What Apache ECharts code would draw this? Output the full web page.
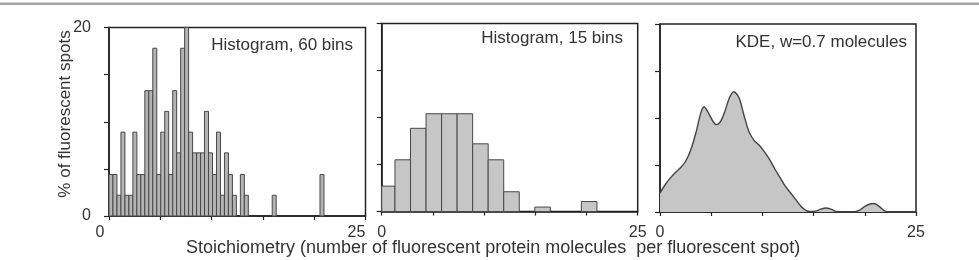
<!DOCTYPE html>
<html>
<head>
<meta charset="utf-8">
<script src="https://cdn.jsdelivr.net/npm/echarts@6/dist/echarts.min.js"></script>
<style>
html, body { margin: 0; padding: 0; background: #fff; }
#chart { width: 979px; height: 260px; }
</style>
</head>
<body>
<div id="chart"></div>
<script>
// % of fluorescent spots in each bin, 60-bin histogram
const hist60 = [4.4, 4.4, 2.2, 8.9, 2.2, 2.2, 8.9, 4.4, 4.4, 13.3,
                13.3, 17.8, 4.4, 8.9, 11.1, 4.4, 13.3, 6.7, 17.8, 20,
                8.9, 6.7, 6.7, 6.7, 11.1, 6.7, 4.4, 8.9, 2.2, 6.7,
                4.4, 2.2, 0, 4.4, 2.2, 0, 0, 0, 0, 0,
                0, 2.2, 0, 0, 0, 0, 0, 0, 0, 0,
                0, 0, 0, 4.4, 0, 0, 0, 0, 0, 0];
const hist60Start = 0;
const hist60Width = 0.388;

// 15-bin histogram
const hist15 = [2.7, 5.5, 8.85, 10.4, 10.4, 10.4, 7.2, 5.5, 2.1, 0, 0.47, 0, 0, 1.06, 0];
const hist15Start = -0.22;
const hist15Width = 1.517;

// kernel density estimate
const kdeX = [0, 0.5, 1.0, 1.5, 2.0, 2.5, 3.0, 3.5, 4.0, 4.3, 4.7, 5.2, 5.5, 5.9, 6.3, 6.8, 7.2, 7.7,
              8.2, 8.7, 9.2, 9.7, 10.2, 10.7, 11.2, 11.7, 12.2, 12.7, 13.2, 13.7, 14.2, 14.7, 15.2,
              15.7, 16.2, 16.7, 17.2, 17.7, 18.9, 19.5, 20.0, 20.5, 20.9, 21.4, 21.9, 22.4, 25];
const kdeY = [2.0, 2.9, 3.6, 4.2, 4.7, 5.4, 6.6, 8.4, 10.6, 11.2, 10.6, 9.6, 9.3, 9.6, 10.6, 12.2, 12.8, 12.2,
              10.3, 8.5, 7.6, 7.1, 6.4, 5.6, 4.6, 3.7, 2.8, 2.1, 1.4, 0.7, 0.2, 0.05, 0.1,
              0.3, 0.42, 0.3, 0.05, 0, 0, 0.2, 0.6, 0.85, 0.9, 0.6, 0.15, 0, 0];

const xLabelsShown = [0, 25];
const yLabelsShown = [0, 20];
const panelTitles = ['Histogram, 60 bins', 'Histogram, 15 bins', 'KDE, w=0.7 molecules'];
const xTitle = 'Stoichiometry (number of fluorescent protein molecules  per fluorescent spot)';
const yTitle = '% of fluorescent spots';

const font = '"Liberation Sans", Arial, sans-serif';
const ink = '#333';

function binData(vals, start, width) {
  const out = [];
  vals.forEach((v, i) => {
    if (v > 0) out.push([start + i * width, start + (i + 1) * width, v]);
  });
  return out;
}

function barItem(fill) {
  return function (params, api) {
    const x0 = Math.max(api.value(0), 0);
    const x1 = api.value(1);
    const a = api.coord([x0, 0]);
    const b = api.coord([x1, api.value(2)]);
    return {
      type: 'rect',
      shape: { x: a[0], y: b[1], width: b[0] - a[0], height: a[1] - b[1] },
      style: { fill: fill, stroke: '#484848', lineWidth: 1 }
    };
  };
}

const grids = [
  { left: 109, top: 27.5, width: 256.5, height: 188.5 },
  { left: 381.7, top: 23.5, width: 256, height: 188 },
  { left: 660, top: 24, width: 256, height: 188 }
];
const labelMargins = [9, 13, 12.5];

const chart = echarts.init(document.getElementById('chart'));

chart.setOption({
  animation: false,
  graphic: [
    {
      type: 'rect', left: 0, top: 2.5,
      shape: { width: 979, height: 2.5 },
      style: { fill: '#a3a3a3' }
    },
    {
      type: 'text', x: 65, y: 114, rotation: Math.PI / 2,
      style: {
        text: yTitle, align: 'center', verticalAlign: 'middle',
        font: '17px ' + font, fill: ink
      }
    }
  ],
  title: [
    { text: panelTitles[0], right: 626, top: 36.5 },
    { text: panelTitles[1], right: 356, top: 29.5 },
    { text: panelTitles[2], right: 72, top: 33.5 },
    { text: xTitle, left: 186, top: 239, fs: 18 }
  ].map(t => {
    const fs = t.fs || 17;
    delete t.fs;
    return Object.assign(t, {
      padding: 0,
      textStyle: { fontFamily: font, fontSize: fs, fontWeight: 'normal', color: ink }
    });
  }),
  grid: grids.map(g => Object.assign({
    show: true, borderColor: '#222', borderWidth: 1.5, containLabel: false
  }, g)),
  xAxis: [0, 1, 2].map(i => ({
    type: 'value', gridIndex: i, min: 0, max: 25, interval: 5,
    splitLine: { show: false },
    axisLine: { onZero: false, lineStyle: { color: '#222', width: 1.5 } },
    axisTick: { length: 4, lineStyle: { color: '#222', width: 1.2 } },
    axisLabel: {
      margin: labelMargins[i],
      fontFamily: font, fontSize: 16, color: ink,
      padding: i === 0 ? [0, 18, 0, 0] : 0,
      formatter: v => (xLabelsShown.indexOf(v) >= 0 ? String(v) : '')
    }
  })),
  yAxis: [0, 1, 2].map(i => ({
    type: 'value', gridIndex: i, min: 0, max: 20, interval: 5,
    splitLine: { show: false },
    axisLine: { onZero: false, lineStyle: { color: '#222', width: 1.5 } },
    axisTick: { length: 5, lineStyle: { color: '#222', width: 1.2 } },
    axisLabel: {
      show: i === 0, margin: 18,
      fontFamily: font, fontSize: 16, color: ink,
      formatter: v => (yLabelsShown.indexOf(v) >= 0 ? String(v) : '')
    }
  })),
  series: [
    {
      type: 'custom', xAxisIndex: 0, yAxisIndex: 0,
      renderItem: barItem('#b4b4b4'),
      encode: { x: [0, 1], y: 2 },
      data: binData(hist60, hist60Start, hist60Width)
    },
    {
      type: 'custom', xAxisIndex: 1, yAxisIndex: 1,
      renderItem: barItem('#c6c6c6'),
      encode: { x: [0, 1], y: 2 },
      data: binData(hist15, hist15Start, hist15Width)
    },
    {
      type: 'line', xAxisIndex: 2, yAxisIndex: 2,
      smooth: 0.3, symbol: 'none',
      lineStyle: { color: '#444', width: 1.4 },
      areaStyle: { color: '#c6c6c6', opacity: 1 },
      data: kdeX.map((x, i) => [x, kdeY[i]])
    }
  ]
});

window.addEventListener('resize', () => chart.resize());
</script>
</body>
</html>
